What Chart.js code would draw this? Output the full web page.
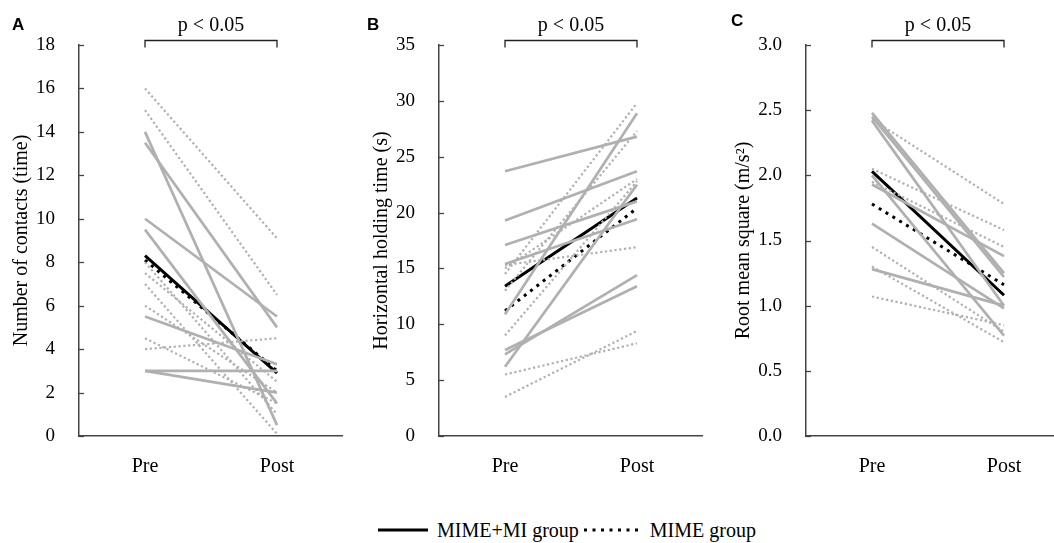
<!DOCTYPE html>
<html>
<head>
<meta charset="utf-8">
<script src="https://cdn.jsdelivr.net/npm/chart.js@4.4.1/dist/chart.umd.min.js"></script>
<style>
  html, body { margin: 0; padding: 0; background: #fff; overflow: hidden; }
  #wrap { position: relative; width: 1054px; height: 543px; overflow: hidden; }
  canvas { position: absolute; top: 0; }
  .legend { position: absolute; top: 518px; font: 20px "Liberation Serif", "Times New Roman", serif; color: #000; display: flex; align-items: center; height: 24px; }
  .legend svg { display: block; }
</style>
</head>
<body>
<div id="wrap">
  <canvas id="chartA" width="343" height="480" style="left:0px"></canvas>
  <canvas id="chartB" width="343" height="480" style="left:360px"></canvas>
  <canvas id="chartC" width="343" height="480" style="left:727px"></canvas>
  <div class="legend" style="left:378px">
    <svg width="50" height="6"><line x1="0" y1="3" x2="50" y2="3" stroke="#000" stroke-width="3"/></svg>
    <span style="margin-left:9px">MIME+MI group</span>
    <svg width="54" height="6" style="margin-left:5px"><line x1="0" y1="3" x2="54" y2="3" stroke="#000" stroke-width="3" stroke-dasharray="3 5.5"/></svg>
    <span style="margin-left:12px">MIME group</span>
  </div>
</div>
<script>
const sessions = ['Pre', 'Post'];

// A: number of contacts
const contactsMiPre = [14, 13.5, 10, 9.5, 5.5, 3, 3];
const contactsMiPost = [0.5, 5, 5.5, 1.5, 3.3, 3, 2];
const contactsMimePre = [16, 15, 8, 7.5, 7, 6, 4.5, 4];
const contactsMimePost = [9.1, 6.5, 1.0, 2.5, 0.1, 2.0, 1.5, 4.5];
const contactsMeanMi = [8.3, 2.9];
const contactsMeanMime = [8.1, 3.0];

// B: horizontal holding time
const holdMiPre = [23.7, 19.3, 17.1, 15.4, 10.9, 7.7, 7.3, 6.2];
const holdMiPost = [26.8, 23.7, 21.0, 19.4, 28.9, 13.4, 14.4, 22.5];
const holdMimePre = [15.3, 15.0, 14.5, 13.0, 9.0, 5.5, 3.5];
const holdMimePost = [16.9, 23.0, 29.8, 27.3, 22.8, 8.3, 9.4];
const holdMeanMi = [13.4, 21.3];
const holdMeanMime = [11.2, 20.4];

// C: root mean square
const rmsMiPre = [2.48, 2.45, 2.42, 2.0, 1.93, 1.63, 1.28];
const rmsMiPost = [1.25, 1.22, 1.0, 0.77, 1.38, 0.98, 1.0];
const rmsMimePre = [2.43, 2.05, 1.95, 1.45, 1.3, 1.07];
const rmsMimePost = [1.78, 1.58, 1.45, 0.8, 0.72, 0.85];
const rmsMeanMi = [2.03, 1.08];
const rmsMeanMime = [1.78, 1.16];

const serif = '"Liberation Serif", "Times New Roman", serif';
const gray = '#b0b0b0';
const axisColor = '#444';

Chart.defaults.font.family = serif;
Chart.defaults.color = '#000';

function buildDatasets(miPre, miPost, mimePre, mimePost, meanMi, meanMime) {
  const sets = [];
  mimePre.forEach((v, i) => sets.push({
    data: [v, mimePost[i]], borderColor: gray, borderWidth: 2.2, borderDash: [2.2, 2.6]
  }));
  miPre.forEach((v, i) => sets.push({
    data: [v, miPost[i]], borderColor: gray, borderWidth: 2.7
  }));
  sets.push({ data: meanMime, borderColor: '#000', borderWidth: 3, borderDash: [3, 5] });
  sets.push({ data: meanMi, borderColor: '#000', borderWidth: 3 });
  return sets;
}

// panel letter, p-value bracket and inward y ticks
const decorations = {
  id: 'decorations',
  afterDraw(chart, args, opts) {
    const ctx = chart.ctx;
    const x = chart.scales.x, y = chart.scales.y;
    const area = chart.chartArea;
    ctx.save();
    ctx.strokeStyle = axisColor;
    ctx.lineWidth = 1.3;
    y.ticks.forEach((t, i) => {
      const py = Math.round(y.getPixelForTick(i)) + 0.5;
      ctx.beginPath();
      ctx.moveTo(area.left, py);
      ctx.lineTo(area.left + 5, py);
      ctx.stroke();
    });
    const x0 = x.getPixelForValue(0), x1 = x.getPixelForValue(1);
    ctx.strokeStyle = '#222';
    ctx.lineWidth = 1.3;
    ctx.beginPath();
    ctx.moveTo(x0, 47.5);
    ctx.lineTo(x0, 40.5);
    ctx.lineTo(x1, 40.5);
    ctx.lineTo(x1, 47.5);
    ctx.stroke();
    ctx.fillStyle = '#000';
    ctx.font = '20px ' + serif;
    ctx.textAlign = 'center';
    ctx.textBaseline = 'alphabetic';
    ctx.fillText('p < 0.05', (x0 + x1) / 2, 31);
    ctx.font = 'bold 17px "Liberation Sans", Arial, sans-serif';
    ctx.textAlign = 'left';
    ctx.fillText(opts.letter, opts.letterX, opts.letterY);
    ctx.restore();
  }
};

function makeChart(id, datasets, yOpts, title, titlePad, letter, letterX, letterY) {
  return new Chart(document.getElementById(id), {
    type: 'line',
    data: { labels: sessions, datasets },
    plugins: [decorations],
    options: {
      responsive: false,
      animation: false,
      devicePixelRatio: 1,
      layout: { padding: { top: 45, left: 0, right: 0, bottom: 0 } },
      elements: { point: { radius: 0 }, line: { tension: 0 } },
      plugins: {
        legend: { display: false },
        tooltip: { enabled: false },
        decorations: { letter, letterX, letterY }
      },
      scales: {
        x: {
          type: 'category',
          offset: true,
          grid: { display: false, drawTicks: false },
          border: { display: true, color: axisColor, width: 1.5 },
          ticks: { color: '#000', font: { family: serif, size: 20 }, padding: 19 },
          afterFit: s => { s.height = 44; }
        },
        y: {
          min: yOpts.min, max: yOpts.max,
          grid: { display: false, drawTicks: false },
          border: { display: true, color: axisColor, width: 1.5 },
          ticks: {
            stepSize: yOpts.step, color: '#000', padding: 24,
            font: { family: serif, size: 19 },
            callback: v => v.toFixed(yOpts.decimals)
          },
          title: { display: true, text: title, color: '#000', font: { family: serif, size: 20 }, padding: { top: titlePad, bottom: 0 } },
          afterFit: s => { s.width = 79; }
        }
      }
    }
  });
}

makeChart('chartA',
  buildDatasets(contactsMiPre, contactsMiPost, contactsMimePre, contactsMimePost, contactsMeanMi, contactsMeanMime),
  { min: 0, max: 18, step: 2, decimals: 0 }, 'Number of contacts (time)', 10, 'A', 12, 30);

makeChart('chartB',
  buildDatasets(holdMiPre, holdMiPost, holdMimePre, holdMimePost, holdMeanMi, holdMeanMime),
  { min: 0, max: 35, step: 5, decimals: 0 }, 'Horizontal holding time (s)', 10, 'B', 7, 30);

makeChart('chartC',
  buildDatasets(rmsMiPre, rmsMiPost, rmsMimePre, rmsMimePost, rmsMeanMi, rmsMeanMime),
  { min: 0, max: 3, step: 0.5, decimals: 1 }, 'Root mean square (m/s²)', 5, 'C', 4, 26);
</script>
</body>
</html>
